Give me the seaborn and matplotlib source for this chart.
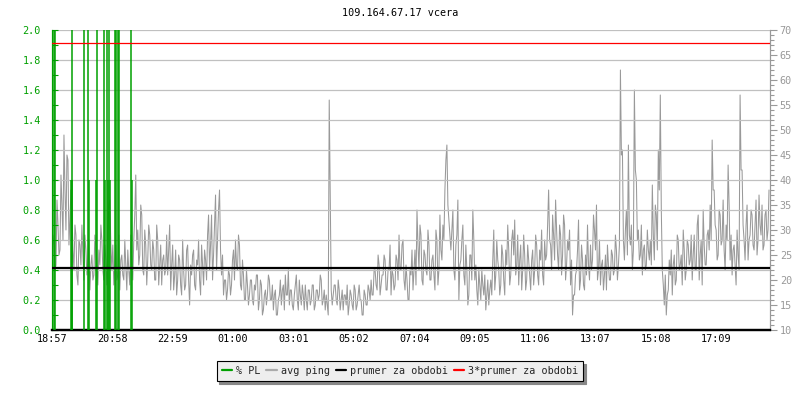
import matplotlib

matplotlib.use("Agg")

import matplotlib.pyplot as plt
from matplotlib.lines import Line2D
import numpy as np
import pandas as pd
import seaborn as sns

TITLE = "109.164.67.17 vcera"
START = "18:57"
STEP_MIN = 2          # one ping sample every 2 minutes
PERIOD_MIN = 1440

# avg ping in ms (right axis); samples at minute 0, 4, 8, ...
ping_even = [
    24, 27, 23, 31, 26, 35, 49, 30, 44, 32,
    34, 22, 29, 19, 27, 31, 20, 26, 24, 18,
    25, 21, 27, 19, 23, 28, 20, 24, 30, 36,
    22, 19, 27, 21, 18, 25, 20, 23, 26, 19,
    24, 28, 41, 30, 25, 33, 21, 27, 24, 29,
    22, 26, 20, 28, 23, 19, 25, 22, 21, 31,
    23, 18, 26, 20, 24, 17, 22, 19, 27, 15,
    21, 26, 18, 23, 20, 27, 19, 24, 29, 22,
    33, 25, 37, 28, 38, 21, 17, 20, 18, 21,
    19, 26, 28, 22, 27, 18, 21, 16, 19, 17,
    20, 15, 18, 21, 16, 19, 14, 18, 17, 20,
    16, 14, 18, 13, 17, 15, 19, 21, 17, 15,
    18, 14, 19, 16, 20, 15, 17, 19, 14, 18,
    16, 19, 15, 18, 17, 20, 16, 14, 15, 56,
    18, 17, 19, 15, 18, 16, 14, 17, 19, 15,
    17, 14, 18, 15, 19, 16, 13, 17, 15, 18,
    20, 17, 22, 18, 23, 19, 21, 24, 18, 22,
    17, 21, 19, 24, 29, 22, 28, 18, 20, 16,
    21, 18, 26, 34, 22, 29, 19, 25, 21, 27,
    20, 25, 18, 28, 22, 26, 31, 38, 47, 32,
    26, 34, 20, 29, 16, 24, 31, 19, 22, 17,
    25, 34, 20, 18, 22, 16, 19, 21, 17, 15,
    20, 24, 18, 28, 22, 19, 25, 17, 23, 26,
    21, 30, 32, 23, 19, 27, 22, 25, 20, 24,
    18, 26, 22, 27, 19, 24, 21, 28, 25, 38,
    27, 33, 24, 30, 22, 29, 25, 31, 23, 26,
    19, 13, 17, 22, 32, 20, 24, 18, 21, 23,
    27, 24, 30, 35, 22, 19, 24, 21, 18, 23,
    20, 25, 22, 26, 23, 62, 46, 24, 34, 47,
    27, 22, 58, 40, 30, 25, 21, 27, 23, 26,
    28, 39, 24, 33, 46, 57, 22, 15, 13, 18,
    21, 17, 25, 20, 28, 23, 19, 26, 22, 27,
    24, 20, 29, 22, 33, 25, 19, 27, 23, 30,
    35, 48, 38, 30, 25, 33, 28, 26, 31, 43,
    24, 21, 27, 19, 25, 57, 42, 28, 31, 24,
    29, 33, 26, 36, 28, 31, 35, 27, 34, 30,
]
# samples in between, at minute 2, 6, 10, ...
ping_odd = [
    29, 22, 36, 25, 41, 28, 38, 45, 27, 38,
    26, 31, 21, 28, 23, 25, 29, 21, 28, 23,
    20, 29, 23, 26, 31, 22, 27, 19, 35, 27,
    27, 23, 20, 29, 24, 21, 28, 18, 22, 29,
    20, 33, 26, 23, 35, 22, 30, 19, 31, 23,
    28, 20, 31, 19, 27, 24, 21, 29, 26, 18,
    27, 21, 17, 25, 19, 28, 18, 26, 20, 23,
    25, 19, 24, 28, 17, 23, 26, 20, 33, 27,
    20, 31, 22, 34, 26, 25, 20, 16, 22, 17,
    24, 20, 23, 29, 19, 24, 16, 22, 15, 20,
    16, 19, 21, 14, 20, 13, 17, 15, 21, 16,
    19, 17, 13, 16, 20, 18, 14, 17, 22, 18,
    15, 17, 21, 14, 17, 19, 14, 16, 18, 15,
    19, 14, 18, 16, 21, 15, 18, 17, 13, 38,
    15, 19, 16, 20, 14, 18, 17, 15, 13, 18,
    15, 19, 14, 17, 16, 13, 18, 15, 19, 16,
    17, 22, 19, 25, 17, 21, 25, 18, 22, 27,
    22, 18, 25, 20, 22, 27, 20, 23, 16, 22,
    26, 22, 19, 27, 31, 20, 26, 22, 30, 20,
    24, 21, 30, 19, 33, 24, 28, 44, 35, 29,
    30, 22, 27, 36, 23, 28, 21, 27, 15, 25,
    20, 28, 23, 15, 19, 22, 17, 14, 20, 18,
    17, 30, 21, 24, 17, 27, 20, 26, 31, 19,
    28, 25, 21, 29, 24, 18, 29, 18, 27, 21,
    24, 19, 29, 21, 26, 30, 19, 24, 31, 28,
    22, 29, 36, 25, 31, 21, 33, 20, 28, 30,
    24, 17, 21, 26, 18, 27, 19, 25, 31, 20,
    22, 33, 26, 20, 28, 23, 18, 25, 27, 20,
    26, 21, 29, 20, 27, 45, 28, 30, 25, 29,
    31, 26, 42, 28, 24, 31, 26, 22, 30, 24,
    23, 29, 35, 26, 38, 34, 19, 21, 17, 24,
    26, 23, 19, 29, 22, 25, 30, 20, 28, 23,
    29, 25, 22, 31, 20, 28, 34, 23, 29, 26,
    28, 38, 31, 24, 34, 27, 36, 22, 28, 35,
    29, 26, 23, 30, 22, 42, 31, 24, 35, 28,
    34, 27, 31, 25, 37, 29, 26, 33, 28, 38,
]

# packet loss events: minutes after start, % lost (left axis)
pl_minutes = [4, 6, 37.5, 39.5, 41, 65, 71.5, 73.5, 89, 91, 105, 107,
              110, 112, 115, 117, 126, 128, 132, 133.5, 158.5, 160.5]
pl_values = [2.0, 2.0, 1.0, 2.0, 1.0, 2.0, 2.0, 1.0, 1.0, 2.0, 2.0, 1.0,
             2.0, 1.0, 2.0, 1.0, 2.0, 2.0, 2.0, 2.0, 2.0, 1.0]

mean_ping = 22.5
tick_labels = ["18:57", "20:58", "22:59", "01:00", "03:01", "05:02",
               "07:04", "09:05", "11:06", "13:07", "15:08", "17:09"]

pl_lim = (0.0, 2.0)
ping_lim = (10, 70)

GREEN = "#00a000"
GRAY = "#999999"
MONO = "DejaVu Sans Mono"
FS = 7.3


def to_minutes(label):
    h, m = map(int, label.split(":"))
    h0, m0 = map(int, START.split(":"))
    return (h * 60 + m - h0 * 60 - m0) % PERIOD_MIN


def ping_to_pl(v):
    return (v - ping_lim[0]) / (ping_lim[1] - ping_lim[0]) * (pl_lim[1] - pl_lim[0])


sns.set_style("white")
plt.rcParams["font.family"] = [MONO, "DejaVu Sans"]

ping = np.column_stack([ping_even, ping_odd]).ravel()
df = pd.DataFrame({"minute": np.arange(len(ping)) * STEP_MIN, "ping": ping})

fig = plt.figure(figsize=(8, 4), dpi=100)
ax = fig.add_axes([52 / 800, 70 / 400, 718 / 800, 300 / 400])
ax2 = ax.twinx()
ax.set_zorder(2)
ax2.set_zorder(1)
ax.patch.set_visible(False)

# avg ping on the right axis
sns.lineplot(data=df, x="minute", y="ping", ax=ax2, color=GRAY, lw=0.75)
ax2.set_ylim(*ping_lim)
ax2.set_xlim(0, PERIOD_MIN)
ax2.set_yticks(range(10, 71, 5))
ax2.set_yticks(range(10, 71, 1), minor=True)
ax2.tick_params(axis="y", which="major", direction="out", length=5, width=0.8,
                colors=GRAY, labelsize=FS, pad=2)
ax2.tick_params(axis="y", which="minor", direction="out", length=3, width=0.8, color=GRAY)
ax2.set_ylabel("")
ax2.set_xlabel("")

# packet loss on the left axis
ax.vlines(pl_minutes, 0, pl_values, color=GREEN, lw=1.1, zorder=3)
ax.axhline(ping_to_pl(mean_ping), color="black", lw=1.6, zorder=4)
ax.axhline(ping_to_pl(3 * mean_ping), color="red", lw=0.9, zorder=4)
ax.set_ylim(*pl_lim)
ax.set_xlim(0, PERIOD_MIN)
ax.set_yticks(np.arange(0, 2.01, 0.2))
ax.set_yticklabels([f"{v:.1f}" for v in np.arange(0, 2.01, 0.2)])
ax.set_yticks(np.arange(0, 2.01, 0.1), minor=True)
ax.tick_params(axis="y", which="major", direction="in", length=4, width=0.8,
               colors=GREEN, labelsize=FS, pad=8)
ax.tick_params(axis="y", which="minor", direction="in", length=4, width=0.8, color=GREEN)
ax.set_xticks([to_minutes(t) for t in tick_labels])
ax.set_xticklabels(tick_labels)
ax.tick_params(axis="x", direction="in", length=5, width=1.2, colors="black",
               labelsize=FS, pad=3)
ax.grid(axis="y", color="#c0c0c0", lw=0.9, zorder=0)
ax.set_axisbelow(True)

for a in (ax, ax2):
    a.spines["top"].set_visible(False)
    a.spines["bottom"].set_color("black")
    a.spines["bottom"].set_linewidth(1.6)
    a.spines["left"].set_color(GREEN)
    a.spines["left"].set_linewidth(0.8)
    a.spines["right"].set_color(GRAY)
    a.spines["right"].set_linewidth(0.8)

fig.text(0.5, 1 - 13 / 400, TITLE, ha="center", va="center", fontsize=FS, color="black")

handles = [
    Line2D([], [], color=GREEN, lw=1.6),
    Line2D([], [], color="#aaaaaa", lw=1.6),
    Line2D([], [], color="black", lw=1.6),
    Line2D([], [], color="red", lw=1.6),
]
labels = ["% PL", "avg ping", "prumer za obdobi", "3*prumer za obdobi"]
leg = fig.legend(handles, labels, loc="center", bbox_to_anchor=(0.5, 1 - 371 / 400),
                 ncol=4, frameon=True, fancybox=False, shadow={"color": "#888888", "alpha": 1},
                 edgecolor="black", facecolor="#eeeeee", framealpha=1,
                 handlelength=1.0, handletextpad=0.4, columnspacing=0.6,
                 borderpad=0.5, prop={"family": MONO, "size": FS})
leg.get_frame().set_linewidth(0.8)

fig.savefig("out.png", dpi=100)
